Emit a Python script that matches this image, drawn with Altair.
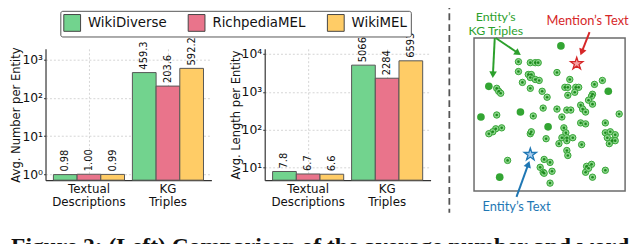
import math
import altair as alt
import pandas as pd

# ---------------- data ----------------
datasets = ["WikiDiverse", "RichpediaMEL", "WikiMEL"]
bar_colors = ["#72d38e", "#e9748b", "#ffcc66"]
categories = ["Textual Descriptions", "KG Triples"]

number_values = [0.98, 1.00, 0.99, 459.3, 203.6, 592.2]
number_labels = ["0.98", "1.00", "0.99", "459.3", "203.6", "592.2"]
length_values = [7.8, 6.7, 6.6, 5066, 2284, 6593]
length_labels = ["7.8", "6.7", "6.6", "5066", "2284", "6593"]

number_ticks = [1, 10, 100, 1000]
length_ticks = [10, 100, 1000, 10000]
number_domain = [0.70, 1923]
length_domain = [4.6, 13680]

# embedding scatter (positions)
pts_x = [568, 525, 537, 542, 545, 525, 535, 538, 537, 542, 546, 564, 495, 503, 505, 507,
         529, 537, 549, 554, 577, 572, 575, 583, 586, 575, 582, 602, 610, 616, 600, 599,
         596, 600, 588, 590, 593, 574, 578, 564, 550, 527, 487, 503, 540, 569, 627, 588,
         593, 555, 613, 508, 502, 499, 495, 537, 538, 571, 573, 569, 574, 580, 566, 574,
         553, 589, 613, 618, 623, 615, 620, 617, 623, 574, 575, 514, 551, 557, 547, 550,
         551, 559, 506, 594, 599, 593, 596, 600, 613, 557]
pts_y = [44, 60, 61, 61, 61, 70, 73, 73, 76, 78, 79, 71, 85, 87, 90, 92,
         81, 87, 90, 96, 78, 86, 86, 86, 86, 94, 91, 83, 79, 90, 93, 95,
         99, 103, 104, 108, 111, 109, 109, 108, 107, 111, 116, 114, 115, 116, 113, 122,
         123, 126, 122, 127, 128, 131, 133, 133, 131, 127, 132, 137, 137, 137, 143, 140,
         138, 144, 132, 131, 134, 137, 140, 143, 140, 150, 155, 160, 159, 162, 167, 172,
         173, 171, 177, 166, 164, 172, 168, 177, 170, 183]
pts_solid = [1, 0, 0, 0, 0, 0, 0, 0, 0, 0, 0, 0, 1, 0, 0, 0,
             0, 0, 0, 0, 0, 0, 0, 0, 0, 0, 0, 0, 0, 1, 0, 0,
             0, 0, 0, 0, 0, 0, 0, 0, 0, 1, 1, 0, 0, 0, 0, 0,
             0, 1, 0, 0, 0, 0, 0, 0, 0, 0, 0, 0, 0, 0, 0, 0,
             0, 0, 0, 0, 0, 0, 0, 0, 0, 0, 0, 0, 0, 0, 0, 0,
             0, 0, 1, 0, 0, 0, 0, 0, 0, 0]

star_x = [584, 537]
star_y = [62, 154]
star_fill = ["#f6a3a3", "#a9cdee"]
star_stroke = ["#d62728", "#1f77b4"]

box_x = [480, 633]
box_y = [36, 191]
divider_x = [455]
divider_y = [0, 213]

arrow_x1 = [501, 502, 597, 523]
arrow_y1 = [36, 36, 30, 197]
arrow_x2 = [499, 527, 588, 536]
arrow_y2 = [76, 53, 53, 161]
arrow_col = ["#2ca02c", "#2ca02c", "#d62728", "#1f77b4"]

note_text = ["Entity’s", "KG Triples", "Mention’s Text", "Entity’s Text"]
note_x = [502, 502, 595, 523]
note_y = [15, 29, 19, 207]
note_size = [12.5, 12.5, 13, 13]
note_col = ["#2ca02c", "#2ca02c", "#d62728", "#1f77b4"]

caption = "Figure 2: (Left) Comparison of the average number and word"

# ---------------- bar panels ----------------
def bar_df(values, labels, base):
    rows = []
    i = 0
    for c in categories:
        for d in datasets:
            rows.append({"category": c, "dataset": d, "value": values[i],
                         "label": labels[i], "base": base})
            i += 1
    return pd.DataFrame(rows)


legend = alt.Legend(
    title=None, orient="none", legendX=15, legendY=-38.5, direction="horizontal",
    symbolType="square", symbolSize=289, symbolStrokeColor="#444", symbolStrokeWidth=1,
    symbolOpacity=1, labelFont="DejaVu Sans", labelFontSize=13.5, labelColor="#111",
    labelOffset=7, columnPadding=19, padding=3, strokeColor="#555", fillColor="white",
    cornerRadius=2, labelLimit=200,
)

sup_expr = "'10' + ['⁰','¹','²','³','⁴','⁵'][round(log(datum.value)/LN10)]"


def bar_panel(values, labels, domain, ticks, ytitle):
    df = bar_df(values, labels, domain[0])
    yscale = alt.Scale(type="log", domain=domain, nice=False)
    base = alt.Chart(df).encode(
        x=alt.X("category:N", sort=categories,
                scale=alt.Scale(paddingInner=0.1, paddingOuter=0.1),
                axis=alt.Axis(title=None, labelAngle=0, labelExpr="split(datum.label, ' ')",
                              labelFont="DejaVu Sans", labelFontSize=12, labelLineHeight=14,
                              labelPadding=3, labelColor="#111", ticks=False,
                              grid=True, gridColor="#d4d4d4", gridDash=[2, 2], bandPosition=0.5,
                              domainColor="#333", domainWidth=1.2)),
        xOffset=alt.XOffset("dataset:N", sort=datasets,
                            scale=alt.Scale(paddingInner=0, paddingOuter=0)),
    )
    yenc = alt.Y("value:Q", scale=yscale,
                 axis=alt.Axis(title=ytitle, values=ticks, labelExpr=sup_expr,
                               labelFont="DejaVu Sans", labelFontSize=12.5, labelColor="#111",
                               labelPadding=1, labelOverlap=False, tickSize=2, tickColor="#333",
                               grid=True, gridColor="#d4d4d4", gridDash=[2, 2],
                               domainColor="#333", domainWidth=1.2,
                               titleFont="DejaVu Sans", titleFontSize=11.7, titleFontWeight="normal",
                               titleColor="#111", titlePadding=0))
    bars = base.mark_bar(stroke="#555", strokeWidth=1).encode(
        y=yenc, y2="base:Q",
        color=alt.Color("dataset:N", sort=datasets,
                        scale=alt.Scale(domain=datasets, range=bar_colors), legend=legend)
    )
    text = base.mark_text(angle=270, align="left", baseline="middle", dx=3,
                          font="DejaVu Sans", fontSize=10, color="#111").encode(
        y=alt.Y("value:Q", scale=yscale), text="label:N")
    return alt.layer(bars, text).properties(width=168, height=133)


panel_a = bar_panel(number_values, number_labels, number_domain, number_ticks, "Avg. Number per Entity")
panel_b = bar_panel(length_values, length_labels, length_domain, length_ticks, "Avg. Length per Entity")

# ---------------- embedding panel ----------------
xs = alt.Scale(domain=[490, 633], nice=False, zero=False)
ys = alt.Scale(domain=[47, 180], reverse=True, nice=False, zero=False)

pts = pd.DataFrame({"x": pts_x, "y": pts_y, "solid": pts_solid})
ring = pts[pts.solid == 0]
full = pts[pts.solid == 1]

box_df = pd.DataFrame({"x": [box_x[0]], "x2": [box_x[1]], "y": [box_y[0]], "y2": [box_y[1]]})
div_df = pd.DataFrame({"x": divider_x, "y": [divider_y[0]], "y2": [divider_y[1]]})

arr_rows = []
for x1, y1, x2, y2, c in zip(arrow_x1, arrow_y1, arrow_x2, arrow_y2, arrow_col):
    dx, dy = x2 - x1, y2 - y1
    L = math.hypot(dx, dy)
    ux, uy = dx / L, dy / L
    ang = (math.degrees(math.atan2(dx, -dy)) + 360) % 360
    arr_rows.append({"x": x1, "y": y1, "x2": x2 - 4 * ux, "y2": y2 - 4 * uy,
                     "hx": x2 - 4 * ux, "hy": y2 - 4 * uy, "ang": ang, "col": c})
arr = pd.DataFrame(arr_rows)

stars = pd.DataFrame({"x": star_x, "y": star_y, "fill": star_fill, "stroke": star_stroke})
notes = pd.DataFrame({"t": note_text, "x": note_x, "y": note_y, "col": note_col, "fs": note_size})

STAR = ("M0,-1L0.2245,-0.309L0.951,-0.309L0.363,0.118L0.588,0.809L0,0.382"
        "L-0.588,0.809L-0.363,0.118L-0.951,-0.309L-0.2245,-0.309Z")

X = lambda f="x": alt.X(f"{f}:Q", scale=xs, axis=None)
Y = lambda f="y": alt.Y(f"{f}:Q", scale=ys, axis=None)

box = alt.Chart(box_df).mark_rect(fillOpacity=0, stroke="#6b6b6b", strokeWidth=1.5).encode(
    x=X(), x2="x2:Q", y=Y(), y2="y2:Q")
divider = alt.Chart(div_df).mark_rule(stroke="#555", strokeWidth=1.8, strokeDash=[7, 4]).encode(
    x=X(), y=Y(), y2="y2:Q")
ring_outer = alt.Chart(ring).mark_circle(size=42, fill="#8bd68b", stroke="#36a336",
                                         strokeWidth=1, opacity=1).encode(x=X(), y=Y())
ring_inner = alt.Chart(ring).mark_circle(size=7, fill="#1f8a1f", opacity=1).encode(x=X(), y=Y())
solid_pts = alt.Chart(full).mark_circle(size=60, fill="#33a533", opacity=1).encode(x=X(), y=Y())
star_marks = alt.Chart(stars).mark_point(shape=STAR, size=170, filled=True, opacity=1,
                                         strokeWidth=1.3).encode(
    x=X(), y=Y(), fill=alt.Fill("fill:N", scale=None), stroke=alt.Stroke("stroke:N", scale=None))
shafts = alt.Chart(arr).mark_rule(strokeWidth=2).encode(
    x=X(), y=Y(), x2="x2:Q", y2="y2:Q", color=alt.Color("col:N", scale=None))
heads = alt.Chart(arr).mark_point(shape="triangle", size=60, filled=True, opacity=1).encode(
    x=X("hx"), y=Y("hy"), angle=alt.Angle("ang:Q", scale=None), color=alt.Color("col:N", scale=None))
note_marks = alt.Chart(notes).mark_text(font="Lato", baseline="middle",
                                        align="center").encode(
    x=X(), y=Y(), text="t:N", color=alt.Color("col:N", scale=None),
    size=alt.Size("fs:Q", scale=None))

panel_c = alt.layer(box, divider, ring_outer, ring_inner, solid_pts, star_marks,
                    shafts, heads, note_marks).properties(width=143, height=133)

chart = alt.hconcat(panel_a, panel_b, panel_c, spacing=54, bounds="flush").properties(
    padding={"left": 38, "top": 39, "right": 594, "bottom": 197},
    autosize=alt.AutoSizeParams(type="none"),
    title=alt.TitleParams(text=caption, orient="bottom", anchor="start", frame="bounds",
                          font="Liberation Serif", fontSize=23.8, fontWeight="bold",
                          color="#111", offset=22),
).configure_view(strokeWidth=0)

chart.save("out.html", embed_options={"renderer": "svg", "actions": False})
